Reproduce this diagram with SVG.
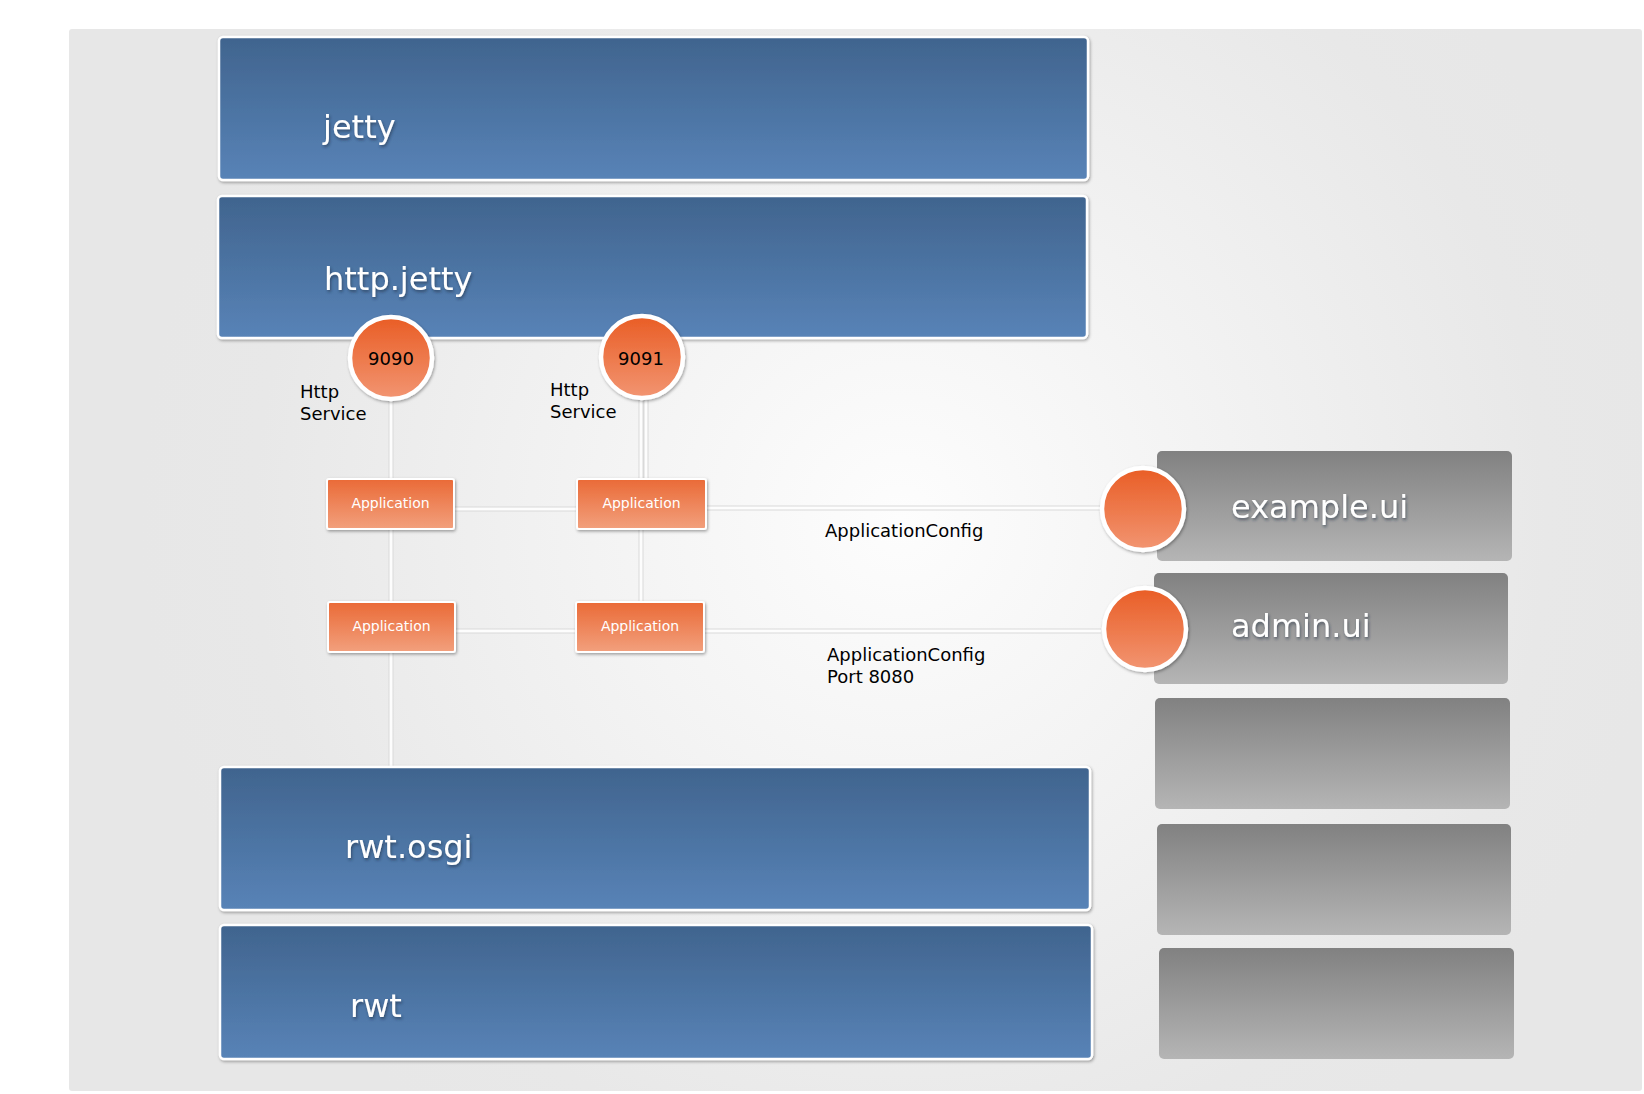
<svg xmlns="http://www.w3.org/2000/svg" width="1644" height="1094" viewBox="0 0 1644 1094">
  <defs>
    <radialGradient id="bg" gradientUnits="userSpaceOnUse" cx="900" cy="520" r="760">
      <stop offset="0" stop-color="#fdfdfd"/>
      <stop offset="0.85" stop-color="#e8e8e8"/>
      <stop offset="1" stop-color="#e7e7e7"/>
    </radialGradient>
    <linearGradient id="blue" x1="0" y1="0" x2="0" y2="1">
      <stop offset="0" stop-color="#40648e"/>
      <stop offset="1" stop-color="#5883b7"/>
    </linearGradient>
    <linearGradient id="gray" x1="0" y1="0" x2="0" y2="1">
      <stop offset="0" stop-color="#818181"/>
      <stop offset="1" stop-color="#b5b5b5"/>
    </linearGradient>
    <linearGradient id="orangeC" x1="0" y1="0" x2="0" y2="1">
      <stop offset="0" stop-color="#e95d25"/>
      <stop offset="1" stop-color="#f29572"/>
    </linearGradient>
    <linearGradient id="orangeB" x1="0" y1="0" x2="0" y2="1">
      <stop offset="0" stop-color="#ea6a37"/>
      <stop offset="1" stop-color="#f2a07d"/>
    </linearGradient>
    <filter id="shadow" x="-10%" y="-10%" width="120%" height="130%">
      <feDropShadow dx="1" dy="1.5" stdDeviation="1.8" flood-color="#000" flood-opacity="0.35"/>
    </filter>
    <filter id="tshadow" x="-10%" y="-20%" width="120%" height="150%">
      <feDropShadow dx="1" dy="2" stdDeviation="1.5" flood-color="#1a2a40" flood-opacity="0.6"/>
    </filter>
    <style>
      .blue { fill: url(#blue); stroke: #ffffff; stroke-width: 2.5; filter: url(#shadow); }
      .gray { fill: url(#gray); }
      .circ { fill: url(#orangeC); stroke: #ffffff; stroke-width: 4.5; filter: url(#shadow); }
      .app { fill: url(#orangeB); stroke: #ffffff; stroke-width: 2; filter: url(#shadow); }
      .big { font-family: "DejaVu Sans", "Liberation Sans", sans-serif; font-size: 32px; fill: #ffffff; filter: url(#tshadow); }
      .num { font-family: "DejaVu Sans", "Liberation Sans", sans-serif; font-size: 18px; fill: #000000; text-anchor: middle; }
      .lbl { font-family: "DejaVu Sans", "Liberation Sans", sans-serif; font-size: 18px; fill: #000000; }
      .apptxt { font-family: "DejaVu Sans", "Liberation Sans", sans-serif; font-size: 14px; fill: #ffffff; text-anchor: middle; }
      .cOut { stroke: #d9d9d9; stroke-width: 5; fill: none; }
      .cIn { stroke: #fdfdfd; stroke-width: 3; fill: none; }
    </style>
  </defs>

  <rect x="69" y="29" width="1573" height="1062" rx="3" fill="url(#bg)"/>

  <g id="connectors">
    <path class="cOut" d="M391 401 V767 M641 400 V479 M646 400 V479 M641 529 V602 M454 509 H577 M706 508 H1100 M455 631 H576 M704 631 H1101"/>
    <path class="cIn" d="M391 401 V767 M641 400 V479 M646 400 V479 M641 529 V602 M454 509 H577 M706 508 H1100 M455 631 H576 M704 631 H1101"/>
  </g>

  <g id="jetty">
    <rect class="blue" x="219" y="37" width="869" height="143" rx="4"/>
    <text class="big" x="323" y="138">jetty</text>
  </g>

  <g id="http-jetty">
    <rect class="blue" x="218" y="196" width="869" height="142" rx="4"/>
    <text class="big" x="324" y="290">http.jetty</text>
  </g>

  <g id="rwt-osgi">
    <rect class="blue" x="220" y="767" width="870" height="143" rx="4"/>
    <text class="big" x="345" y="858">rwt.osgi</text>
  </g>

  <g id="rwt">
    <rect class="blue" x="220" y="925" width="872" height="134" rx="4"/>
    <text class="big" x="350" y="1017">rwt</text>
  </g>

  <g id="port-9090">
    <circle class="circ" cx="391" cy="358" r="41"/>
    <text class="num" x="391" y="365">9090</text>
    <text class="lbl" x="300" y="398">Http</text>
    <text class="lbl" x="300" y="420">Service</text>
  </g>

  <g id="port-9091">
    <circle class="circ" cx="642" cy="357" r="41"/>
    <text class="num" x="641" y="365">9091</text>
    <text class="lbl" x="550" y="396">Http</text>
    <text class="lbl" x="550" y="418">Service</text>
  </g>

  <g id="app-1">
    <rect class="app" x="327" y="479" width="127" height="50" rx="2"/>
    <text class="apptxt" x="390.5" y="508">Application</text>
  </g>
  <g id="app-2">
    <rect class="app" x="577" y="479" width="129" height="50" rx="2"/>
    <text class="apptxt" x="641.5" y="508">Application</text>
  </g>
  <g id="app-3">
    <rect class="app" x="328" y="602" width="127" height="50" rx="2"/>
    <text class="apptxt" x="391.5" y="631">Application</text>
  </g>
  <g id="app-4">
    <rect class="app" x="576" y="602" width="128" height="50" rx="2"/>
    <text class="apptxt" x="640" y="631">Application</text>
  </g>

  <g id="label-config-1">
    <text class="lbl" x="825" y="537">ApplicationConfig</text>
  </g>
  <g id="label-config-2">
    <text class="lbl" x="827" y="661">ApplicationConfig</text>
    <text class="lbl" x="827" y="683">Port 8080</text>
  </g>

  <g id="example-ui">
    <rect class="gray" x="1157" y="451" width="355" height="110" rx="5"/>
    <circle class="circ" cx="1143" cy="509" r="41"/>
    <text class="big" x="1231" y="518">example.ui</text>
  </g>

  <g id="admin-ui">
    <rect class="gray" x="1154" y="573" width="354" height="111" rx="5"/>
    <circle class="circ" cx="1145" cy="629" r="41"/>
    <text class="big" x="1231" y="637">admin.ui</text>
  </g>

  <g id="gray-box-3">
    <rect class="gray" x="1155" y="698" width="355" height="111" rx="5"/>
  </g>
  <g id="gray-box-4">
    <rect class="gray" x="1157" y="824" width="354" height="111" rx="5"/>
  </g>
  <g id="gray-box-5">
    <rect class="gray" x="1159" y="948" width="355" height="111" rx="5"/>
  </g>
</svg>
